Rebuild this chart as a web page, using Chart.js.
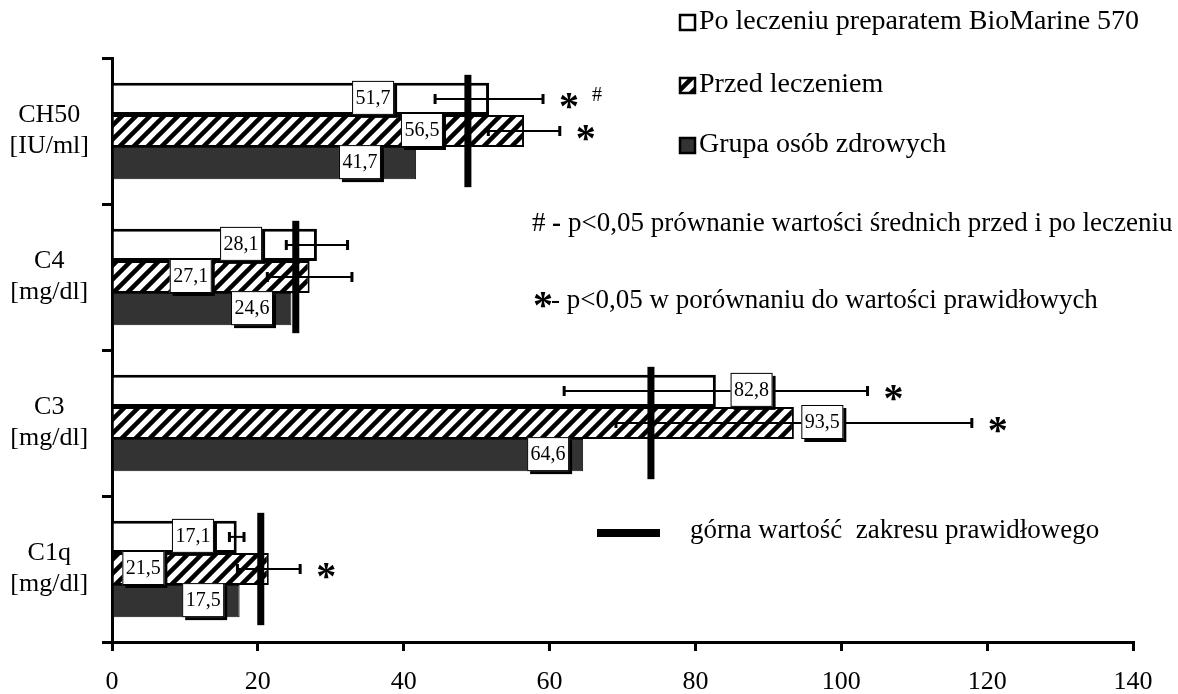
<!DOCTYPE html>
<html>
<head>
<meta charset="utf-8">
<script src="https://cdn.jsdelivr.net/npm/chart.js@4/dist/chart.umd.min.js"></script>
<style>
  html, body { margin: 0; padding: 0; background: #fff; }
  #wrap { width: 1178px; height: 694px; }
</style>
</head>
<body>
<div id="wrap"><canvas id="chart"></canvas></div>
<script>
// Data
const categories = [['CH50', '[IU/ml]'], ['C4', '[mg/dl]'], ['C3', '[mg/dl]'], ['C1q', '[mg/dl]']];
const seriesNames = ['Po leczeniu preparatem BioMarine 570', 'Przed leczeniem', 'Grupa osób zdrowych'];
const poValues = [51.7, 28.1, 82.8, 17.1];
const przedValues = [56.5, 27.1, 93.5, 21.5];
const zdrowiValues = [41.7, 24.6, 64.6, 17.5];
const poSD = [7.4, 4.2, 20.8, 1.0];
const przedSD = [4.9, 5.8, 24.4, 4.3];
const normalUpper = [48.8, 25.2, 73.9, 20.4];
const poMarks = ['*#', '', '*', ''];
const przedMarks = ['*', '', '*', '*'];
const xTicks = [0, 20, 40, 60, 80, 100, 120, 140];

// where the value boxes sit along the axis (value units)
const poLabelAt = [35.8, 17.7, 87.7, 11.1];
const przedLabelAt = [42.5, 10.8, 97.4, 4.3];
const zdrowiLabelAt = [34.0, 19.2, 59.8, 12.5];

const SERIF = "'Liberation Serif', 'Times New Roman', serif";

// Diagonal hatch for "Przed leczeniem"
function makeHatch() {
  const s = 14;
  const c = document.createElement('canvas');
  c.width = c.height = s;
  const g = c.getContext('2d');
  g.fillStyle = '#fff';
  g.fillRect(0, 0, s, s);
  g.strokeStyle = '#000';
  g.lineWidth = 4.5;
  g.beginPath();
  g.moveTo(-s / 2, s / 2); g.lineTo(s / 2, -s / 2);
  g.moveTo(0, s); g.lineTo(s, 0);
  g.moveTo(s / 2, s * 1.5); g.lineTo(s * 1.5, s / 2);
  g.stroke();
  return g.createPattern(c, 'repeat');
}
const hatch = makeHatch();

const fmt = v => v.toFixed(1).replace('.', ',');

// Normal range line, error bars, value boxes, significance marks
const overlay = {
  id: 'overlay',
  afterDatasetsDraw(chart) {
    const { ctx, scales: { x } } = chart;
    const metas = [0, 1, 2].map(i => chart.getDatasetMeta(i));

    ctx.save();
    // upper limit of normal range
    ctx.fillStyle = '#000';
    normalUpper.forEach((v, i) => {
      const top = metas[0].data[i].y - metas[0].data[i].height / 2 - 8;
      const bottom = metas[2].data[i].y + metas[2].data[i].height / 2 + 8;
      const px = x.getPixelForValue(v);
      ctx.fillRect(px - 3.5, top, 7, bottom - top);
    });

    // error bars
    ctx.strokeStyle = '#000';
    ctx.lineWidth = 2;
    [[0, poValues, poSD], [1, przedValues, przedSD]].forEach(([di, vals, sd]) => {
      metas[di].data.forEach((bar, i) => {
        const x1 = x.getPixelForValue(vals[i] - sd[i]);
        const x2 = x.getPixelForValue(vals[i] + sd[i]);
        const y = bar.y;
        ctx.beginPath();
        ctx.moveTo(x1, y); ctx.lineTo(x2, y);
        ctx.stroke();
        ctx.lineWidth = 3;
        ctx.beginPath();
        ctx.moveTo(x1, y - 5); ctx.lineTo(x1, y + 5);
        ctx.moveTo(x2, y - 5); ctx.lineTo(x2, y + 5);
        ctx.stroke();
        ctx.lineWidth = 2;
      });
    });

    // value boxes
    ctx.font = '20px ' + SERIF;
    ctx.textAlign = 'center';
    ctx.textBaseline = 'middle';
    [[0, poValues, poLabelAt], [1, przedValues, przedLabelAt], [2, zdrowiValues, zdrowiLabelAt]].forEach(([di, vals, at]) => {
      metas[di].data.forEach((bar, i) => {
        const cx = x.getPixelForValue(at[i]);
        const cy = bar.y - 1;
        const w = 42, h = 34;
        ctx.fillStyle = '#000';
        ctx.fillRect(cx - w / 2 + 3, cy - h / 2 + 3, w, h);
        ctx.fillStyle = '#fff';
        ctx.fillRect(cx - w / 2, cy - h / 2, w, h);
        ctx.lineWidth = 1;
        ctx.strokeStyle = '#000';
        ctx.strokeRect(cx - w / 2 + 0.5, cy - h / 2 + 0.5, w - 1, h - 1);
        ctx.fillStyle = '#000';
        ctx.fillText(fmt(vals[i]), cx, cy + 1);
      });
    });

    // significance marks
    [[0, poValues, poSD, poMarks], [1, przedValues, przedSD, przedMarks]].forEach(([di, vals, sd, marks]) => {
      metas[di].data.forEach((bar, i) => {
        const end = x.getPixelForValue(vals[i] + sd[i]);
        if (marks[i].includes('*')) {
          ctx.font = 'bold 40px ' + SERIF;
          ctx.textAlign = 'center';
          ctx.textBaseline = 'alphabetic';
          ctx.fillText('*', end + 26, bar.y + 20);
        }
        if (marks[i].includes('#')) {
          ctx.font = '20px ' + SERIF;
          ctx.textAlign = 'center';
          ctx.textBaseline = 'middle';
          ctx.fillText('#', end + 54, bar.y - 3);
        }
      });
    });
    ctx.restore();
  },
  afterDraw(chart) {
    const { ctx } = chart;
    ctx.save();
    // legend
    const fills = ['#fff', hatch, '#333'];
    const rows = [22, 85, 145];
    ctx.font = '28px ' + SERIF;
    ctx.textAlign = 'left';
    ctx.textBaseline = 'middle';
    seriesNames.forEach((name, i) => {
      ctx.fillStyle = fills[i];
      ctx.fillRect(679, rows[i] - 8, 17, 17);
      ctx.strokeStyle = '#000';
      ctx.lineWidth = 2.5;
      ctx.strokeRect(680, rows[i] - 7, 15, 15);
      ctx.fillStyle = '#000';
      ctx.fillText(name, 699, rows[i]);
    });

    // notes
    ctx.font = '27px ' + SERIF;
    ctx.fillText('#', 532, 224);
    ctx.font = 'bold 27px ' + SERIF;
    ctx.fillText('-', 552, 224);
    ctx.font = '27px ' + SERIF;
    ctx.fillText('p<0,05 prównanie wartości średnich przed i po leczeniu', 568, 224);
    ctx.font = 'bold 40px ' + SERIF;
    ctx.fillText('*', 533, 308);
    ctx.font = '27px ' + SERIF;
    ctx.fillText('- p<0,05 w porównaniu do wartości prawidłowych', 551, 301);

    ctx.fillRect(597, 529, 63, 8);
    ctx.fillText('górna wartość  zakresu prawidłowego', 690, 531);
    ctx.restore();
  }
};

const ctx = document.getElementById('chart').getContext('2d');
new Chart(ctx, {
  type: 'bar',
  data: {
    labels: categories,
    datasets: [
      { label: seriesNames[0], data: poValues, backgroundColor: '#fff', borderColor: '#000', borderWidth: 3 },
      { label: seriesNames[1], data: przedValues, backgroundColor: hatch, borderColor: '#000', borderWidth: 2 },
      { label: seriesNames[2], data: zdrowiValues, backgroundColor: '#333', borderColor: '#111', borderWidth: 1 }
    ]
  },
  options: {
    indexAxis: 'y',
    responsive: true,
    maintainAspectRatio: false,
    animation: false,
    categoryPercentage: 0.66,
    barPercentage: 1.0,
    layout: { padding: { top: 58, right: 45, left: 0, bottom: 0 } },
    plugins: {
      legend: { display: false },
      tooltip: { enabled: false }
    },
    scales: {
      x: {
        min: 0,
        max: 140,
        afterBuildTicks: s => { s.ticks = xTicks.map(v => ({ value: v })); },
        afterFit: s => { s.height = 52; },
        border: { display: true, color: '#000', width: 3 },
        grid: { drawOnChartArea: false, drawTicks: true, tickLength: 9, color: '#000', lineWidth: 3 },
        ticks: { color: '#000', font: { family: SERIF, size: 26 }, padding: 16, maxRotation: 0 }
      },
      y: {
        afterFit: s => { s.width = 112; },
        border: { display: true, color: '#000', width: 3 },
        grid: { drawOnChartArea: false, drawTicks: true, tickLength: 10, color: '#000', lineWidth: 3, offset: true },
        ticks: { color: '#000', font: { family: SERIF, size: 26, lineHeight: 1.2 }, padding: 13, crossAlign: 'center' }
      }
    }
  },
  plugins: [overlay]
});
</script>
</body>
</html>
